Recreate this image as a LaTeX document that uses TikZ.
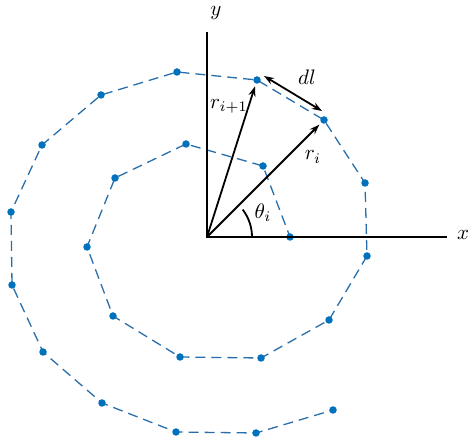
\documentclass[tikz,border=0pt]{standalone}
\usetikzlibrary{arrows.meta,calc}
\definecolor{dotblue}{RGB}{0,114,189}
\definecolor{dashblue}{RGB}{40,110,170}
\begin{document}
\begin{tikzpicture}[x=1pt,y=-1pt,
  axis/.style={line width=2.8pt},
  vec/.style={line width=1.8pt,-{Stealth[length=10pt,width=7pt]}},
  spiral/.style={dashblue,line width=1.3pt,dash pattern=on 10pt off 6pt},
  pt/.style={circle,fill=dotblue,inner sep=0pt,minimum size=7.5pt},
  lbl/.style={scale=2.1,transform shape}]
\useasboundingbox (0,0) rectangle (474,443);
\coordinate (O) at (207,237);
\foreach \n/\x/\y in {1/290/237,2/263/166,3/186/144,4/115/178,5/87/247,6/113/316,7/180/357,8/261/358,9/329/320,10/367/256,11/365/183,12/324/120,13/257/80,14/177/72,15/101/95,16/42/145,17/11/212,18/12/285,19/43/352,20/102/403,21/176/432,22/256/433,23/333/410}
  \coordinate (p\n) at (\x,\y);
\draw[spiral] (O) -- (p1) -- (p2) -- (p3) -- (p4) -- (p5) -- (p6) -- (p7) -- (p8) -- (p9) -- (p10) -- (p11) -- (p12) -- (p13) -- (p14) -- (p15) -- (p16) -- (p17) -- (p18) -- (p19) -- (p20) -- (p21) -- (p22) -- (p23);
\foreach \n in {1,...,23} \node[pt] (d\n) at (p\n) {};
\coordinate (xend) at (447,237);
\coordinate (yend) at (207,32);
\draw[axis] (xend) -- (O) -- (yend);
\node[lbl] (xl) at (463,235) {$x$};
\node[lbl] (yl) at (216,13) {$y$};
\draw[vec] (O) -- ($(O)!0.96!(p12)$);
\draw[vec] (O) -- ($(O)!0.96!(p13)$);
\coordinate (a1) at (264,76);
\coordinate (a2) at (322,111);
\draw[line width=1.8pt,{Stealth[length=10pt,width=7pt]}-{Stealth[length=10pt,width=7pt]}] (a1) -- (a2);
\draw[line width=1.8pt] (252,237) arc[start angle=0,end angle=-37.5,radius=45];
\node[lbl] (rl) at (313,157) {$r_i$};
\node[lbl] (r1l) at (229,106) {$r_{i+1}$};
\node[lbl] (dl) at (307,77) {$dl$};
\node[lbl] (tl) at (263,213) {$\theta_i$};
\end{tikzpicture}
\end{document}
